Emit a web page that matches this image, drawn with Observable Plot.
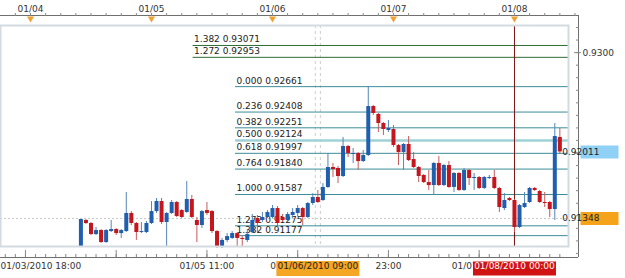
<!DOCTYPE html>
<html><head><meta charset="utf-8">
<script src="https://cdn.jsdelivr.net/npm/d3@7"></script>
<script src="https://cdn.jsdelivr.net/npm/@observablehq/plot@0.6"></script>
<style>
html,body{margin:0;padding:0;background:#fff;}
#chart svg{display:block;}
</style></head><body><div id="chart"></div>
<script>
// ---- data ----
const firstCandle = new Date(Date.UTC(2010, 0, 4, 10));
const open = [
0.91069,0.91328,0.91298,0.91188,0.91228,0.91109,0.91218,0.91238,0.91198,0.91218,
0.91398,0.91298,0.91208,0.91208,0.91298,0.91417,0.91517,0.91308,0.91398,0.91507,
0.91427,0.91408,0.91537,0.91328,0.91278,0.91427,0.91417,0.91218,0.91059,0.91129,
0.91149,0.91198,0.91149,0.91129,0.91208,0.91348,0.91328,0.91358,0.91358,0.91447,
0.91358,0.91328,0.91378,0.91398,0.91447,0.91358,0.91497,0.91557,0.91527,0.91657,
0.91856,0.91846,0.91766,0.92065,0.91985,0.91995,0.91915,0.91975,0.92463,0.92384,
0.92294,0.92224,0.92234,0.92075,0.92005,0.92085,0.91935,0.91856,0.91776,0.91706,
0.91676,0.91896,0.91676,0.91876,0.91657,0.91796,0.91627,0.91826,0.91746,0.91756,
0.91647,0.91746,0.91756,0.91647,0.91447,0.91547,0.91527,0.91258,0.91457,0.91507,
0.91647,0.91617,0.91507,0.91507,0.91437,0.92155];
const high = [
0.91338,0.91338,0.91308,0.91258,0.91238,0.91238,0.91328,0.91248,0.91238,0.91607,
0.91417,0.91308,0.91308,0.91318,0.91517,0.91547,0.91547,0.91408,0.91527,0.91517,
0.91437,0.91716,0.91577,0.91358,0.91427,0.91507,0.91427,0.91228,0.91149,0.91198,
0.91218,0.91208,0.91168,0.91228,0.91388,0.91378,0.91408,0.91427,0.91477,0.91467,
0.91388,0.91408,0.91447,0.91477,0.91457,0.91507,0.91597,0.91627,0.91696,0.91995,
0.91896,0.91866,0.92155,0.92075,0.92045,0.92005,0.92025,0.92662,0.92473,0.92394,
0.92304,0.92324,0.92274,0.92085,0.92095,0.92164,0.92005,0.91866,0.91786,0.91826,
0.91906,0.91965,0.91886,0.91915,0.91806,0.91806,0.91846,0.91836,0.91796,0.91766,
0.91766,0.91776,0.91826,0.91657,0.91597,0.91557,0.91537,0.91487,0.91607,0.91657,
0.91657,0.91627,0.91607,0.91517,0.92294,0.92244];
const low = [
0.91069,0.91288,0.91178,0.91178,0.91099,0.91099,0.91208,0.91178,0.91149,0.91208,
0.91278,0.91129,0.91198,0.91198,0.91288,0.91398,0.91288,0.91059,0.91388,0.91358,
0.91348,0.91398,0.91348,0.91109,0.91248,0.91378,0.91198,0.91049,0.91049,0.91109,
0.91139,0.91059,0.91069,0.91109,0.91198,0.91208,0.91308,0.91348,0.91348,0.91258,
0.91308,0.91308,0.91348,0.91368,0.91278,0.91348,0.91477,0.91497,0.91517,0.91647,
0.91756,0.91696,0.91756,0.91955,0.91896,0.91826,0.91906,0.91965,0.92374,0.92204,
0.92174,0.92204,0.92055,0.91876,0.91826,0.91915,0.91846,0.91706,0.91696,0.91627,
0.91577,0.91666,0.91666,0.91647,0.91607,0.91617,0.91617,0.91676,0.91627,0.91637,
0.91637,0.91736,0.91637,0.91408,0.91427,0.91517,0.91208,0.91248,0.91447,0.91497,
0.91617,0.91497,0.91457,0.91358,0.91328,0.91985];
const close = [
0.91338,0.91298,0.91188,0.91228,0.91109,0.91228,0.91238,0.91198,0.91228,0.91398,
0.91298,0.91208,0.91218,0.91298,0.91417,0.91517,0.91308,0.91398,0.91507,0.91368,
0.91358,0.91537,0.91358,0.91278,0.91417,0.91398,0.91218,0.91059,0.91129,0.91168,
0.91198,0.91149,0.91139,0.91188,0.91328,0.91298,0.91358,0.91408,0.91447,0.91298,
0.91328,0.91388,0.91408,0.91447,0.91358,0.91497,0.91557,0.91507,0.91657,0.91856,
0.91836,0.91766,0.92065,0.91995,0.91995,0.91915,0.91975,0.92463,0.92394,0.92294,
0.92234,0.92244,0.92075,0.92005,0.92085,0.91925,0.91856,0.91766,0.91706,0.91676,
0.91896,0.91676,0.91876,0.91657,0.91796,0.91627,0.91826,0.91746,0.91756,0.91647,
0.91756,0.91756,0.91647,0.91457,0.91527,0.91527,0.91258,0.91477,0.91497,0.91647,
0.91627,0.91507,0.91497,0.91437,0.92164,0.92011];

// Fibonacci levels
const fibRatios = [1.382, 1.272, 0.000, 0.236, 0.382, 0.500, 0.618, 0.764, 1.000, 1.272, 1.382];
const fibPrices = [0.93071, 0.92953, 0.92661, 0.92408, 0.92251, 0.92124, 0.91997, 0.91840, 0.91587, 0.91275, 0.91177];
const fibGroups = ["ext", "ext", "main", "main", "main", "mid", "main", "main", "main", "main", "main"];
const fibStartExt = new Date(Date.UTC(2010, 0, 5, 8, 15));
const fibStartMain = new Date(Date.UTC(2010, 0, 5, 16, 40));

// axes / annotations
const xDomain = [new Date(Date.UTC(2010, 0, 3, 18, 3)), new Date(Date.UTC(2010, 0, 8, 10, 43))];
const yDomain = [0.91069, 0.93270];
const dayTicks = [4, 5, 6, 7, 8].map(d => new Date(Date.UTC(2010, 0, d)));
const dayLabels = ["01/04", "01/05", "01/06", "01/07", "01/08"];
const startLabel = "01/03/2010 18:00";
const bottomLabelTimes = [
  new Date(Date.UTC(2010, 0, 5, 11)), new Date(Date.UTC(2010, 0, 6, 5)),
  new Date(Date.UTC(2010, 0, 6, 23)), new Date(Date.UTC(2010, 0, 7, 17))];
const bottomLabelTexts = ["01/05 11:00", "01/06 05:00", "23:00", "01/07 17:00"];
const bottomMajorTicks = [new Date(Date.UTC(2010, 0, 3, 23)), new Date(Date.UTC(2010, 0, 4, 17)), ...bottomLabelTimes];
const priceMajorTicks = [0.9200, 0.9300];
const priceLabels = [0.9300];
const crossTime = new Date(Date.UTC(2010, 0, 6, 9));
const crossPrice = 0.91348;
const crossLabel = "01/06/2010 09:00";
const markerTime = new Date(Date.UTC(2010, 0, 8, 0));
const markerLabel = "01/08/2010 00:00";
const lastPrice = 0.92011;

// ---- build ----
const H = 3600e3;
const candles = open.map((o, i) => ({
  date: new Date(+firstCandle + i * H), open: o, high: high[i], low: low[i], close: close[i]
}));
const up = candles.filter(d => d.close >= d.open);
const down = candles.filter(d => d.close < d.open);
const fibs = fibRatios.map((r, i) => ({
  ratio: r, price: fibPrices[i], group: fibGroups[i],
  start: fibGroups[i] === "ext" ? fibStartExt : fibStartMain,
  label: `${r.toFixed(3)} ${fibPrices[i].toFixed(5)}`
}));
const topMinor = d3.utcHour.every(3).range(xDomain[0], new Date(+xDomain[1] + 2 * H));
const bottomMinor = d3.range(0, 60).map(i => new Date(Date.UTC(2010, 0, 3, 19) + i * 2 * H)).filter(d => d <= xDomain[1]);
const rightMinor = d3.range(0, 19).map(i => 0.91000 + i * 0.00125);

const box = (w, h) => ({draw(ctx) { ctx.rect(-w / 2, -h / 2, w, h); }});

const BLUE = "#1f5fae", RED = "#c4161c";
const axisColor = "#6f6f6f";

const chart = Plot.plot({
  width: 625, height: 278,
  marginLeft: 0, marginRight: 57, marginTop: 25, marginBottom: 32,
  style: {fontFamily: "'DejaVu Sans', sans-serif", fontSize: "9px", color: "#333", background: "#fff"},
  x: {type: "utc", domain: xDomain, axis: null},
  y: {domain: yDomain, axis: null},
  marks: [
    // crosshair
    Plot.ruleY([crossPrice], {y: d => d, stroke: "#c8c8c8", strokeDasharray: "2,2"}),
    Plot.ruleX([new Date(+crossTime - H / 2), new Date(+crossTime + H / 2)], {x: d => d, stroke: "#cfcfcf", strokeDasharray: "3,3"}),
    // fib lines
    Plot.ruleY(fibs.filter(d => d.group === "ext"), {y: "price", x1: "start", x2: () => xDomain[1], stroke: "#2f6b34"}),
    Plot.ruleY(fibs.filter(d => d.group === "main"), {y: "price", x1: "start", x2: () => xDomain[1], stroke: "#3b8c98"}),
    Plot.ruleY(fibs.filter(d => d.group === "mid"), {y: "price", x1: "start", x2: () => xDomain[1], stroke: "#9fd2d6", strokeWidth: 2.5}),
    Plot.text(fibs, {x: "start", y: "price", text: "label", textAnchor: "start", dx: 1, dy: -6, fill: "#222", fontSize: 9}),
    // marker line
    Plot.ruleX([markerTime], {x: d => d, stroke: "#7a1414"}),
    // candles
    Plot.ruleX(up, {x: "date", y1: "low", y2: "high", stroke: "#5585b8"}),
    Plot.ruleX(down, {x: "date", y1: "low", y2: "high", stroke: "#c85a5a"}),
    Plot.ruleX(up, {x: "date", y1: "open", y2: "close", stroke: BLUE, strokeWidth: 4}),
    Plot.ruleX(down, {x: "date", y1: "open", y2: "close", stroke: RED, strokeWidth: 4}),
    // frame
    Plot.frame({stroke: "#d3dbe0", strokeWidth: 2}),
    // top axis
    Plot.ruleY([yDomain[1]], {y: d => d, dy: -10, insetRight: -10, stroke: axisColor}),
    Plot.axisX(topMinor, {anchor: "top", tickSize: 3, dy: -10, fill: "none", stroke: "#888", label: null}),
    Plot.text(dayTicks, {x: d => d, text: (d, i) => dayLabels[i], frameAnchor: "top", dy: -19.5, fill: "#333", fontSize: 9}),
    Plot.dot(dayTicks, {x: d => d, frameAnchor: "top", dy: -7, symbol: "triangle", rotate: 180, r: 2.6, fill: "#f2a030", stroke: "none"}),
    // bottom axis
    Plot.ruleY([yDomain[0]], {y: d => d, dy: 11, insetRight: -10, stroke: axisColor}),
    Plot.axisX(bottomMinor, {anchor: "bottom", tickSize: 3, dy: 8, fill: "none", stroke: "#888", label: null}),
    Plot.axisX(bottomMajorTicks, {anchor: "bottom", tickSize: 7, dy: 4, fill: "none", stroke: "#888", label: null}),
    Plot.text([xDomain[0]], {x: d => d, text: () => startLabel, frameAnchor: "bottom", dy: 22, textAnchor: "start", fill: "#333", fontSize: 9}),
    Plot.text(bottomLabelTimes, {x: d => d, text: (d, i) => bottomLabelTexts[i], frameAnchor: "bottom", dy: 22, fill: "#333", fontSize: 9}),
    Plot.dot([crossTime], {x: d => d, frameAnchor: "bottom", dy: 22, symbol: box(83, 15), fill: "#f5a623", stroke: "none"}),
    Plot.text([crossTime], {x: d => d, text: () => crossLabel, frameAnchor: "bottom", dy: 22, fill: "#222", fontSize: 9}),
    Plot.dot([markerTime], {x: d => d, frameAnchor: "bottom", dy: 22, symbol: box(83, 14), fill: "#d01212", stroke: "none"}),
    Plot.text([markerTime], {x: d => d, text: () => markerLabel, frameAnchor: "bottom", dy: 22, fill: "#fff", fontSize: 9}),
    // right axis
    Plot.ruleX([xDomain[1]], {x: d => d, dx: 10, insetTop: -10, insetBottom: -11, stroke: axisColor}),
    Plot.axisY(rightMinor, {anchor: "right", tickSize: 3, dx: 7, fill: "none", stroke: "#888", label: null}),
    Plot.axisY(priceMajorTicks, {anchor: "right", tickSize: 7, dx: 5, fill: "none", stroke: "#888", label: null}),
    Plot.text(priceLabels, {y: d => d, text: d => d3.format(".4f")(d), frameAnchor: "right", dx: 14, textAnchor: "start", fill: "#333", fontSize: 9}),
    Plot.dot([lastPrice], {y: d => d, frameAnchor: "right", dx: 31, symbol: box(38, 13), fill: "#8fd0f5", stroke: "none"}),
    Plot.text([lastPrice], {y: d => d, text: d => d3.format(".5f")(d), frameAnchor: "right", dx: 31, fill: "#222", fontSize: 9}),
    Plot.dot([crossPrice], {y: d => d, frameAnchor: "right", dx: 31, symbol: box(38, 13), fill: "#f5a31a", stroke: "none"}),
    Plot.text([crossPrice], {y: d => d, text: d => d3.format(".5f")(d), frameAnchor: "right", dx: 31, fill: "#222", fontSize: 9})
  ]
});
document.getElementById("chart").appendChild(chart);
</script>
</body></html>
